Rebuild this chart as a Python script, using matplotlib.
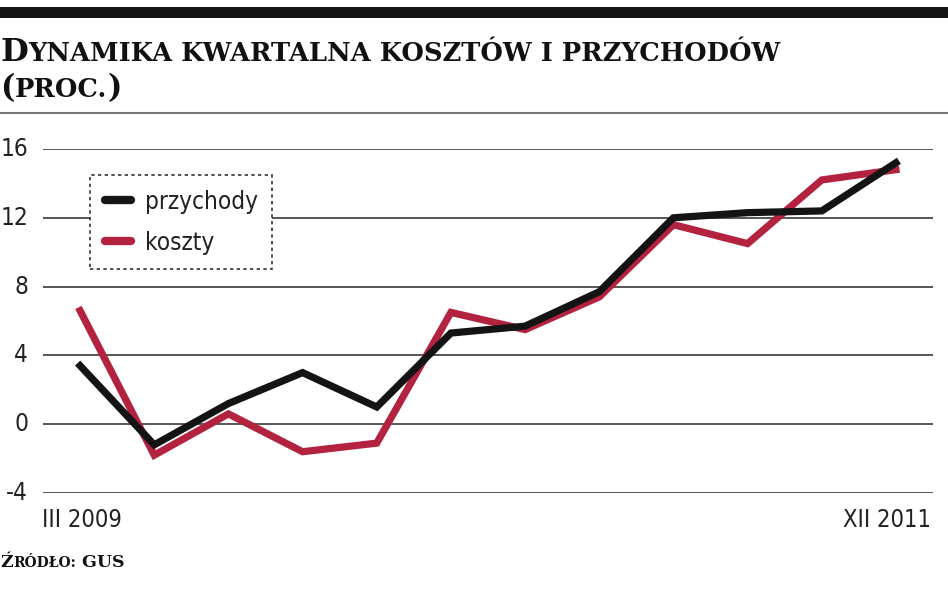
import matplotlib
matplotlib.use("Agg")
import matplotlib.pyplot as plt
from matplotlib.patches import Rectangle
from matplotlib.lines import Line2D

# dane: dynamika kwartalna (proc.), III 2009 - XII 2011
quarters = ["III 2009", "VI 2009", "IX 2009", "XII 2009",
            "III 2010", "VI 2010", "IX 2010", "XII 2010",
            "III 2011", "VI 2011", "IX 2011", "XII 2011"]
przychody = [3.4, -1.2, 1.2, 3.0, 1.0, 5.3, 5.7, 7.7, 12.0, 12.3, 12.4, 15.2]
koszty = [6.6, -1.8, 0.6, -1.6, -1.1, 6.5, 5.5, 7.4, 11.6, 10.5, 14.2, 14.8]
yticks = [-4, 0, 4, 8, 12, 16]

W, H = 948, 593
RED = "#b3223f"
BLACK = "#141414"
GRID = "#555555"
SANS = dict(family=["DejaVu Sans"], stretch="condensed", color="#222222")
SERIF = dict(family=["DejaVu Serif"], weight="bold", color="#111111")

fig = plt.figure(figsize=(W / 100, H / 100), dpi=100)
fig.patch.set_facecolor("white")

def fy(px):
    return 1 - px / H

# gorny czarny pasek i szara linia pod tytulem
fig.add_artist(Rectangle((0, fy(18)), 1, 11 / H, transform=fig.transFigure,
                         color="#151515", lw=0))
fig.add_artist(Line2D([0, 1], [fy(113), fy(113)], transform=fig.transFigure,
                      color="#777777", lw=1.5))

ax = fig.add_axes([43 / W, fy(493), 890 / W, 344 / H])
for s in ax.spines.values():
    s.set_visible(False)
for v in yticks:
    ax.axhline(v, color=GRID, lw=1.4, zorder=1)

x = list(range(len(quarters)))
ax.plot(x, koszty, color=RED, lw=5.2, solid_joinstyle="miter", label="koszty", zorder=3)
ax.plot(x, przychody, color=BLACK, lw=5.2, solid_joinstyle="miter", label="przychody", zorder=4)
ax.set_xlim(-0.5, len(quarters) - 0.5)
ax.set_ylim(-4, 16)
ax.set_xticks([])
ax.set_yticks([])

# etykiety osi Y
for v in yticks:
    ax.annotate(str(v), (0, v), xycoords=("figure fraction", "data"),
                xytext=(28, 0), textcoords="offset pixels",
                ha="right", va="center", fontsize=17.5, **SANS)

# etykiety osi X (tylko pierwsza i ostatnia)
fig.text(42 / W, fy(520), quarters[0], fontsize=17, va="center", ha="left", **SANS)
fig.text(931 / W, fy(520), quarters[-1], fontsize=17, va="center", ha="right", **SANS)

# legenda
h_p = Line2D([], [], color=BLACK, lw=6, solid_capstyle="round")
h_k = Line2D([], [], color=RED, lw=6, solid_capstyle="round")
leg = ax.legend([h_p, h_k], ["przychody", "koszty"], loc="upper left",
                bbox_to_anchor=((90 - 43) / 890, (493 - 175) / 344),
                borderaxespad=0, handlelength=1.1, handletextpad=0.55,
                labelspacing=0.7, borderpad=0.6, fancybox=False,
                framealpha=1, prop=dict(family="DejaVu Sans", stretch="condensed", size=17.5))
leg.get_frame().set_linestyle((0, (2, 2)))
leg.get_frame().set_edgecolor("#333333")
leg.get_frame().set_linewidth(1.2)
for t in leg.get_texts():
    t.set_color("#222222")
leg.set_zorder(10)

# tekst z kapitalikami: skladany z kawalkow
def chain(parts, x0, y0):
    fig.canvas.draw()
    r = fig.canvas.get_renderer()
    xp = x0
    for s, size in parts:
        t = fig.text(xp / W, fy(y0), s, fontsize=size, va="baseline", ha="left", **SERIF)
        bb = t.get_window_extent(r)
        xp = bb.x1 + 0.5

chain([("D", 23), ("YNAMIKA KWARTALNA KOSZTÓW I PRZYCHODÓW", 18.5)], 0, 61)
chain([("(", 22), ("PROC.", 18.5), (")", 22)], 0, 97)
chain([("Ź", 12.5), ("RÓDŁO:", 10), (" GUS", 12.5)], 0, 567)

fig.savefig("out.png", dpi=100)
